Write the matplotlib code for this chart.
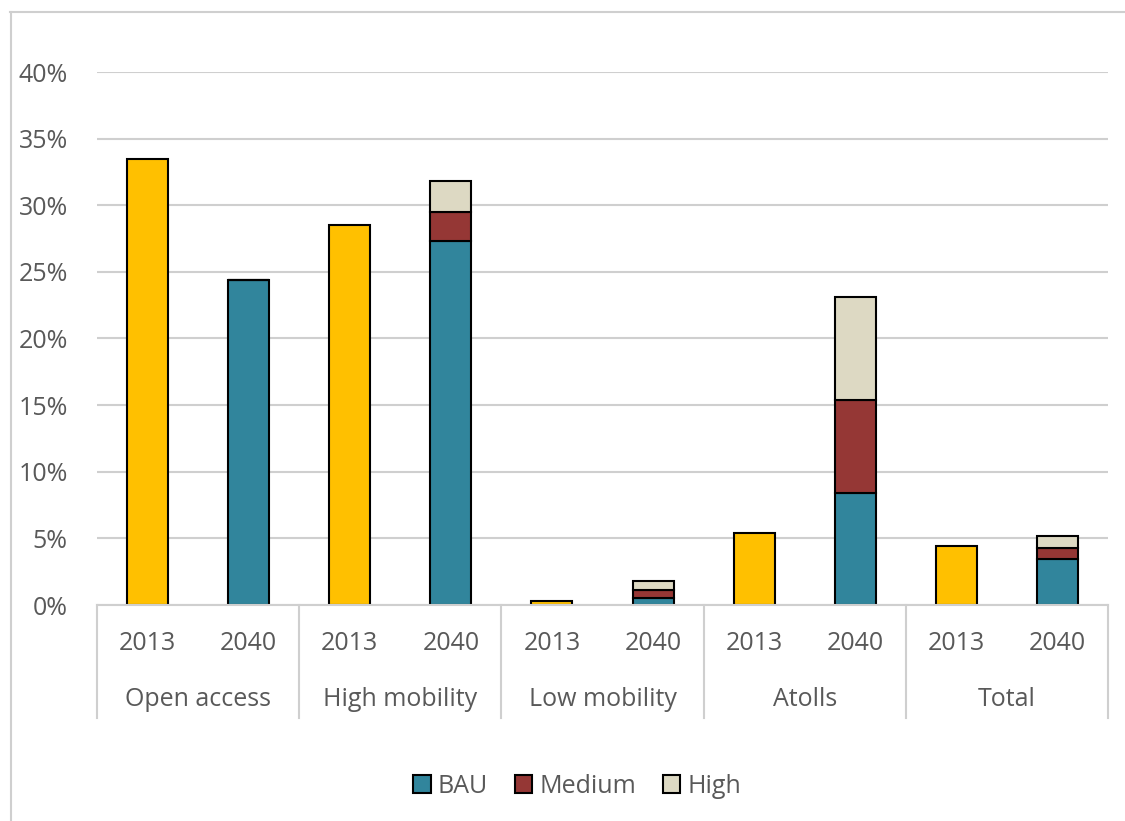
import matplotlib.pyplot as plt
from matplotlib.lines import Line2D
from matplotlib.patches import Patch
import numpy as np

plt.rcParams['font.family'] = ['Open Sans', 'DejaVu Sans']

groups = ["Open access", "High mobility", "Low mobility", "Atolls", "Total"]
years = ["2013", "2040"]
# values in percent
base_2013 = [33.5, 28.5, 0.3, 5.4, 4.45]
bau_2040 = [24.4, 27.3, 0.5, 8.4, 3.48]
medium_2040 = [0.0, 2.2, 0.63, 7.0, 0.77]
high_2040 = [0.0, 2.3, 0.7, 7.7, 0.93]

c_2013 = "#FFC000"
c_bau = "#31859C"
c_med = "#953735"
c_high = "#DDD9C3"
txt = "#595959"
grid_c = "#CFCFCF"
fs = 18

fig = plt.figure(figsize=(11.25, 8.21), dpi=100)
ax = fig.add_axes([97 / 1125, 1 - 605 / 821, 1011 / 1125, 533 / 821])

x13 = np.arange(len(groups)) * 2
x40 = x13 + 1
w = 0.405
kw = dict(width=w, edgecolor="black", linewidth=1.5, zorder=3)
ax.bar(x13, base_2013, color=c_2013, **kw)
ax.bar(x40, bau_2040, color=c_bau, **kw)
ax.bar(x40, medium_2040, bottom=bau_2040, color=c_med, **kw)
bot = np.array(bau_2040) + np.array(medium_2040)
ax.bar(x40, high_2040, bottom=bot, color=c_high, **kw)

ax.set_xlim(-0.5, 9.5)
ax.set_ylim(0, 40)
ax.set_yticks(range(0, 45, 5))
ax.set_yticklabels([f"{t}%" for t in range(0, 45, 5)])
ax.yaxis.grid(True, color=grid_c, linewidth=1.5, zorder=0)
ax.set_axisbelow(True)
for s in ax.spines.values():
    s.set_visible(False)
ax.tick_params(axis="y", length=0, pad=21, labelsize=fs, labelcolor=txt)
ax.set_xticks([])

# category axis with group separators
trans = ax.get_xaxis_transform()
for xs in np.arange(-0.5, 10, 2):
    ax.plot([xs, xs], [0, -0.212], transform=trans, color=grid_c,
            linewidth=1.5, clip_on=False)
ax.plot([-0.5, 9.5], [0, 0], transform=trans, color=grid_c, linewidth=1.5,
        clip_on=False, zorder=4)
for i, g in enumerate(groups):
    ax.text(x13[i], -0.073, years[0], transform=trans, ha="center", va="center",
            fontsize=fs, color=txt)
    ax.text(x40[i], -0.073, years[1], transform=trans, ha="center", va="center",
            fontsize=fs, color=txt)
    ax.text(x13[i] + 0.5, -0.178, g, transform=trans, ha="center", va="center",
            fontsize=fs, color=txt)

handles = [Patch(facecolor=c_bau, edgecolor="black", linewidth=1.5),
           Patch(facecolor=c_med, edgecolor="black", linewidth=1.5),
           Patch(facecolor=c_high, edgecolor="black", linewidth=1.5)]
leg = fig.legend(handles, ["BAU", "Medium", "High"], loc="center",
                 bbox_to_anchor=(0.513, 1 - 786 / 821), ncol=3, frameon=False,
                 fontsize=fs, handlelength=0.7, handleheight=0.7,
                 handletextpad=0.3, columnspacing=1.05)
for t in leg.get_texts():
    t.set_color(txt)

# outer chart border (top and left visible)
fig.add_artist(Line2D([10 / 1125, 1], [1 - 12.5 / 821] * 2, color=grid_c, linewidth=1.5))
fig.add_artist(Line2D([10.5 / 1125] * 2, [0, 1 - 12.5 / 821], color=grid_c, linewidth=1.5))

fig.savefig("out.png", dpi=100)
